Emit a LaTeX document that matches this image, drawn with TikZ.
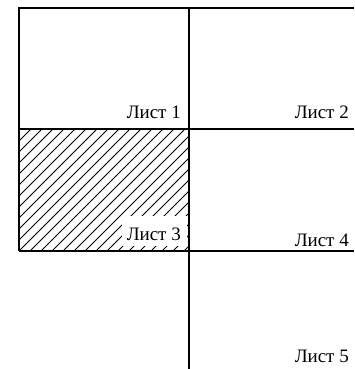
\documentclass[tikz,border=0pt]{standalone}
\usepackage{fontspec}
\setmainfont{Liberation Serif}
\begin{document}
\begin{tikzpicture}[x=1pt,y=-1pt,
  frame/.style={line width=1.3pt, black},
  lbl/.style={font=\fontsize{19}{20}\selectfont, inner sep=1pt},
  hatch/.style={line width=0.8pt}]
\useasboundingbox (0,0) rectangle (354,369);
% hatching
\begin{scope}
\clip (19,129) rectangle (189,251);
\foreach \i in {-132,-121,...,176} {
  \draw[hatch] (19+\i,251) -- ++(140,-140);
}
\end{scope}
% blank patch behind label 3
\fill[white] (122,216) rectangle (187,246);
% frame lines
\coordinate (tl) at (19,8);
\coordinate (tr) at (354,8);
\coordinate (ml) at (19,129);
\coordinate (mr) at (354,129);
\coordinate (bl) at (19,251);
\coordinate (br) at (354,251);
\coordinate (vt) at (189,8);
\coordinate (vb) at (189,369);
\draw[frame] (tr) -- (tl) -- (bl);
\draw[frame] (ml) -- (mr);
\draw[frame] (bl) -- (br);
\draw[frame] (vt) -- (vb);
% labels
\node[lbl, anchor=base east] (l1) at (182,118) {Лист 1};
\node[lbl, anchor=base east] (l2) at (350,118) {Лист 2};
\node[lbl, anchor=base east] (l3) at (182,240) {Лист 3};
\node[lbl, anchor=base east] (l4) at (350,246) {Лист 4};
\node[lbl, anchor=base east] (l5) at (350,362) {Лист 5};
\end{tikzpicture}
\end{document}
